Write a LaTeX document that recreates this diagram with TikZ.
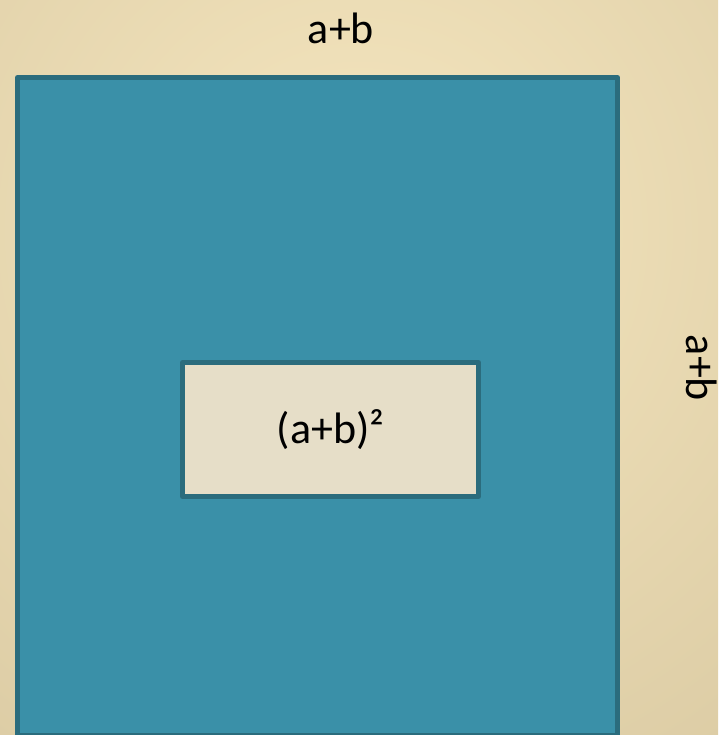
\documentclass[tikz,border=0pt]{standalone}
\usepackage{fontspec}
\setmainfont{Carlito}
\usetikzlibrary{positioning}

\definecolor{paper}{HTML}{F5E6BF}
\definecolor{paperdark}{HTML}{C3B28A}
\definecolor{tealfill}{HTML}{3A90A8}
\definecolor{tealline}{HTML}{2B6C7D}
\definecolor{boxfill}{HTML}{E6DEC8}

\begin{document}
\begin{tikzpicture}[x=1pt,y=1pt,font=\fontsize{44}{48}\selectfont]
\tikzset{
  area/.style={draw=tealline,line width=5pt,line join=round,inner sep=0pt},
  lbl/.style={inner sep=0pt,text=black}
}
\useasboundingbox (0,0) rectangle (718,735);
% background
\begin{scope}
\clip (0,0) rectangle (718,735);
\shade[inner color=paper,outer color=paperdark] (360,505) circle (1300);
\end{scope}
% squares
\node[area,fill=tealfill,minimum width=600pt,minimum height=658.5pt] (outer) at (317.5,328.25) {};
\node[area,fill=boxfill,minimum width=296pt,minimum height=134pt] (inner) at (330.5,305.5) {(a+b)²};
% side labels
\node[lbl] (top) at (341,707) {a+b};
\node[lbl,rotate=-90] (side) at (702,367) {a+b};
\end{tikzpicture}
\end{document}
